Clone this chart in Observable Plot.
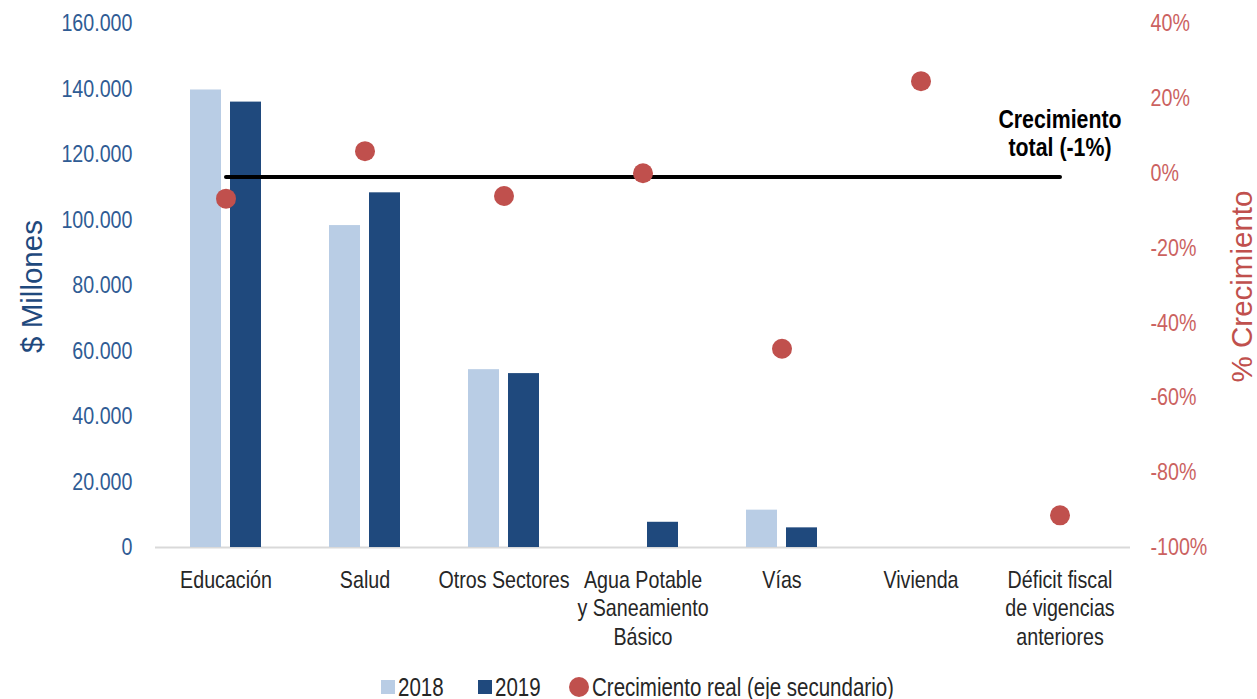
<!DOCTYPE html>
<html>
<head>
<meta charset="utf-8">
<script src="https://cdn.jsdelivr.net/npm/d3@7"></script>
<script src="https://cdn.jsdelivr.net/npm/@observablehq/plot@0.6"></script>
<style>
  html, body { margin: 0; padding: 0; background: #fff; overflow: hidden; }
  #chart svg { display: block; }
  .legend { display: flex; justify-content: center; align-items: center; height: 34px;
    font-family: "Liberation Sans", Arial, sans-serif;
    font-size: 25px; color: #262626; padding-left: 18px; }
  .legend .item { display: flex; align-items: center; }
  .legend .lt { display: inline-block; transform: scaleX(0.82); transform-origin: left center; white-space: nowrap; }
  .legend .sw { display: inline-block; width: 14px; height: 14px; margin-right: 3px; }
  .legend .dot { display: inline-block; width: 20px; height: 20px; border-radius: 50%; margin-right: 3px; }
</style>
</head>
<body>
<div id="chart"></div>
<div class="legend">
  <span class="item" style="margin-right:34px"><span class="sw" style="background:#B9CDE5"></span><span class="lt">2018</span></span>
  <span class="item" style="margin-right:28px"><span class="sw" style="background:#1F497D"></span><span class="lt">2019</span></span>
  <span class="item"><span class="dot" style="background:#C0504D"></span><span class="lt">Crecimiento real (eje secundario)</span></span>
</div>
<script>
const categories = [
  "Educación",
  "Salud",
  "Otros Sectores",
  "Agua Potable\ny Saneamiento\nBásico",
  "Vías",
  "Vivienda",
  "Déficit fiscal\nde vigencias\nanteriores"
];
const values2018 = [139700, 98300, 54300, 0, 11400, 0, 0];
const values2019 = [136000, 108300, 53100, 7700, 6000, 0, 0];
const growthPct = [-6.8, 5.9, -6.1, 0, -46.9, 24.6, -91.4];
const totalGrowthPct = -1;
const totalLabel = "Crecimiento\ntotal (-1%)";
const leftTicks = [0, 20000, 40000, 60000, 80000, 100000, 120000, 140000, 160000];
const rightTicks = [-100, -80, -60, -40, -20, 0, 20, 40];
const titleLeft = "$ Millones";
const titleRight = "% Crecimiento";

const sans = '"Liberation Sans", Arial, sans-serif';
const NARROW = 0.82; // emulate Arial Narrow

// map secondary axis (%) onto primary axis (millions)
const toPrimary = d3.scaleLinear([-100, 40], [0, 160000]);

const rows2018 = categories.map((c, i) => ({cat: c, value: values2018[i]}));
const rows2019 = categories.map((c, i) => ({cat: c, value: values2019[i]}));
const rowsGrowth = categories.map((c, i) => ({cat: c, g: growthPct[i]}));
const totalLine = [categories[0], categories[categories.length - 1]].map(c => ({cat: c, g: totalGrowthPct}));

const fmtThousands = v => d3.format(",")(v).replace(/,/g, ".");

const plot = Plot.plot({
  width: 1257,
  height: 670,
  marginTop: 23,
  marginBottom: 123,
  marginLeft: 155,
  marginRight: 127,
  style: {fontFamily: sans, background: "#fff"},
  x: {domain: categories, padding: 0, axis: null},
  y: {domain: [0, 160000], axis: null},
  marks: [
    Plot.ruleY([0], {stroke: "#D9D9D9", strokeWidth: 2}),
    Plot.barY(rows2018, {x: "cat", y: "value", fill: "#B9CDE5", insetLeft: 54, insetRight: 54, dx: -20}),
    Plot.barY(rows2019, {x: "cat", y: "value", fill: "#1F497D", insetLeft: 54, insetRight: 54, dx: 20}),
    Plot.line(totalLine, {x: "cat", y: d => toPrimary(d.g), stroke: "#000", strokeWidth: 4, strokeLinecap: "round"}),
    Plot.dot(rowsGrowth, {x: "cat", y: d => toPrimary(d.g), r: 10, fill: "#C0504D", stroke: "none"}),
    Plot.text([totalLine[1]], {x: "cat", y: d => toPrimary(d.g), text: () => totalLabel, lineAnchor: "bottom",
      dy: -21, fontSize: 26, fontWeight: "bold", fill: "#000", lineHeight: 1.08}),
    Plot.axisX({anchor: "bottom", tickSize: 0, tickPadding: 20, fontSize: 24, lineHeight: 1.19, fill: "#262626", label: null}),
    Plot.axisY(leftTicks, {anchor: "left", tickSize: 0, tickPadding: 23, fontSize: 24, fill: "#2F5C94",
      tickFormat: fmtThousands, label: null}),
    Plot.axisY(rightTicks.map(t => toPrimary(t)), {anchor: "right", tickSize: 0, tickPadding: 20, fontSize: 24, fill: "#CB625F",
      tickFormat: v => `${Math.round(toPrimary.invert(v))}%`, label: null}),
    Plot.text([titleLeft], {frameAnchor: "left", rotate: -90, dx: -123, dy: 1, text: d => d, fontSize: 29.5,
      fill: "#1F497D", textAnchor: "middle", lineAnchor: "middle"}),
    Plot.text([titleRight], {frameAnchor: "right", rotate: -90, dx: 112, dy: 1, text: d => d, fontSize: 29.5,
      fill: "#C0504D", textAnchor: "middle", lineAnchor: "middle"})
  ]
});
document.getElementById("chart").appendChild(plot);

// condense every text except the two axis titles (Arial Narrow look)
plot.querySelectorAll("text").forEach(t => {
  const s = t.textContent;
  if (s === titleLeft || s === titleRight) return;
  const tr = t.getAttribute("transform") || "";
  const x = parseFloat(t.getAttribute("x") || "0");
  if (x) t.setAttribute("x", x / NARROW);
  t.querySelectorAll("tspan[x]").forEach(ts => {
    const tx = parseFloat(ts.getAttribute("x") || "0");
    if (tx) ts.setAttribute("x", tx / NARROW);
  });
  t.setAttribute("transform", (tr + ` scale(${NARROW},1)`).trim());
});

// legend text: compensate layout width for the scaleX
document.querySelectorAll(".legend .lt").forEach(el => {
  el.style.marginRight = (-(el.offsetWidth * (1 - NARROW))) + "px";
});
</script>
</body>
</html>
